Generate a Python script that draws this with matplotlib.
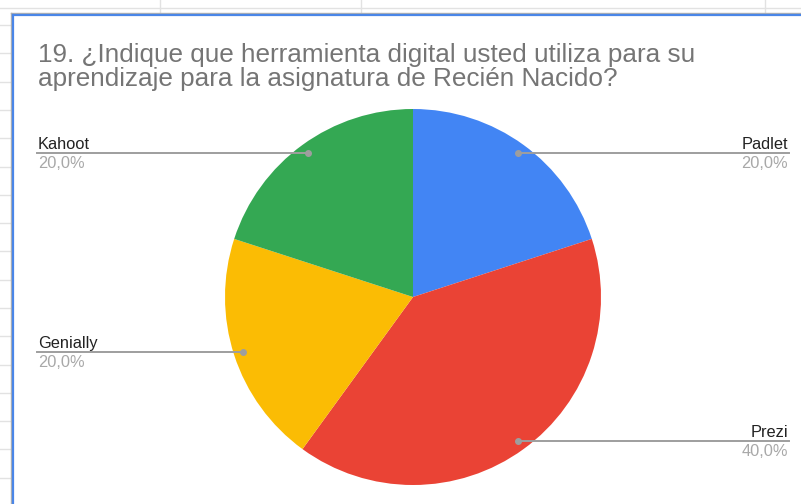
import matplotlib
matplotlib.use("Agg")
import matplotlib.pyplot as plt
import numpy as np

# data
labels = ["Padlet", "Prezi", "Genially", "Kahoot"]
values = [20.0, 40.0, 20.0, 20.0]
colors = ["#4285f4", "#ea4335", "#fbbc04", "#34a853"]
title = ("19. ¿Indique que herramienta digital usted utiliza para su\n"
         "aprendizaje para la asignatura de Recién Nacido?")

W, H = 801, 504
plt.rcParams['font.family'] = ['Liberation Sans', 'DejaVu Sans']

fig = plt.figure(figsize=(W / 100, H / 100), dpi=100)
ax = fig.add_axes([0, 0, 1, 1])


def py(y):
    # screen pixel y (from top) -> data y
    return H - y


# spreadsheet grid behind the chart
grid = "#e2e2e2"
ax.plot([0, W], [py(8), py(8)], color=grid, lw=1, zorder=0)
for gx in [160, 361, 765]:
    ax.plot([gx, gx], [py(0), py(14)], color=grid, lw=1, zorder=0)
for gy in np.arange(25, H, 28.3):
    ax.plot([0, 10], [py(gy), py(gy)], color=grid, lw=1, zorder=0)

# chart frame (only left/top edges visible)
ax.plot([11, 11], [py(13), py(H)], color="#b0b0b0", lw=1, zorder=1)
ax.plot([11, W], [py(13), py(13)], color="#b0b0b0", lw=1, zorder=1)
ax.plot([12.5, 12.5], [py(14.5), py(H)], color="#4a86e8", lw=1.6, zorder=2)
ax.plot([12.5, W], [py(14.5), py(14.5)], color="#4a86e8", lw=1.6, zorder=2)

# pie
cx, cy, r = 413, 297, 188
wedges, _ = ax.pie(values, colors=colors, startangle=90, counterclock=False,
                   center=(cx, py(cy)), radius=r,
                   wedgeprops=dict(linewidth=0))

# leader lines + labels
line_c = "#9e9e9e"
for w, lab, val in zip(wedges, labels, values):
    ang = np.deg2rad((w.theta1 + w.theta2) / 2)
    dx = 0.95 * r * np.cos(ang)
    dy = 0.95 * r * np.sin(ang)
    x0, y0 = cx + dx, py(cy) + dy
    if dx > 0:
        xe, ha = 789, "right"
    else:
        xe, ha = 37, "left"
    ax.plot([x0, xe], [y0, y0], color=line_c, lw=1.4, zorder=3)
    ax.plot([x0], [y0], "o", color=line_c, ms=4, zorder=4)
    xt = xe - 1 if ha == "right" else xe + 1
    ax.text(xt, y0 + 4, lab, ha=ha, va="baseline", fontsize=11.8,
            color="#222222")
    ax.text(xt, y0 - 15, f"{val:.1f}%".replace(".", ","), ha=ha,
            va="baseline", fontsize=11.8, color="#a8a8a8")

ax.text(38, py(43), title, ha="left", va="top", fontsize=18.8,
        color="#757575", linespacing=0.98)

ax.set_xlim(0, W)
ax.set_ylim(0, H)
ax.axis("off")

fig.savefig("out.png", dpi=100)
